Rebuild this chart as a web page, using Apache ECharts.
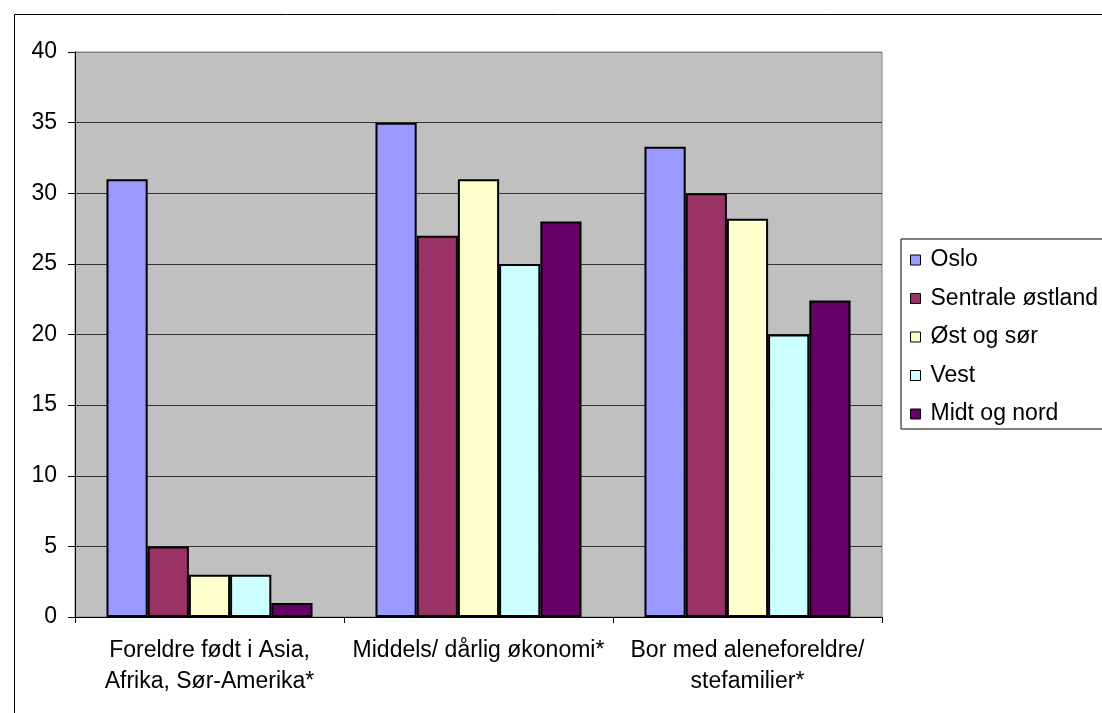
<!DOCTYPE html>
<html>
<head>
<meta charset="utf-8">
<script src="https://cdn.jsdelivr.net/npm/echarts@6/dist/echarts.min.js"></script>
<style>
html,body{margin:0;padding:0;background:#fff;}
#c{width:1102px;height:713px;}
</style>
</head>
<body>
<div id="c"></div>
<script>
const categories = ["Foreldre født i Asia,\nAfrika, Sør-Amerika*", "Middels/ dårlig økonomi*", "Bor med aleneforeldre/\nstefamilier*"];
const seriesNames = ["Oslo", "Sentrale østland", "Øst og sør", "Vest", "Midt og nord"];
const oslo = [31, 35, 33.3];
const sentrale = [5, 27, 30];
const ostOgSor = [3, 31, 28.2];
const vest = [3, 25, 20];
const midtOgNord = [1, 28, 22.4];
const colors = ["#9999FF", "#993366", "#FFFFCC", "#CCFFFF", "#660066"];
const yTicks = [0, 5, 10, 15, 20, 25, 30, 35, 40];

const values = [oslo, sentrale, ostOgSor, vest, midtOgNord];
const font = "'Liberation Sans', Arial, sans-serif";

const chart = echarts.init(document.getElementById('c'), null, {renderer: 'canvas'});
chart.setOption({
  animation: false,
  backgroundColor: '#fff',
  textStyle: {fontFamily: font},
  graphic: [{
    type: 'rect', silent: true, z: 100,
    shape: {x: 14.5, y: 14.5, width: 1200, height: 800},
    style: {fill: 'none', stroke: '#000', lineWidth: 1}
  }],
  grid: {
    left: 75, top: 52, right: 220, bottom: 96,
    show: true, backgroundColor: '#C0C0C0', borderColor: '#808080', borderWidth: 1
  },
  legend: {
    orient: 'vertical',
    left: 901, top: 239,
    padding: [9.5, 12, 3.5, 9],
    itemGap: 15.5,
    itemWidth: 10, itemHeight: 10,
    icon: 'rect',
    borderColor: '#000', borderWidth: 1,
    backgroundColor: '#fff',
    itemStyle: {borderColor: '#000', borderWidth: 1},
    textStyle: {fontSize: 23, color: '#000', fontFamily: font, lineHeight: 23, padding: [0, 0, 0, 5]},
    data: seriesNames
  },
  xAxis: {
    type: 'category',
    data: categories,
    axisLine: {lineStyle: {color: '#000', width: 1}},
    axisTick: {show: true, length: 6, lineStyle: {color: '#000'}, alignWithLabel: false},
    axisLabel: {interval: 0, fontSize: 23, color: '#000', fontFamily: font, lineHeight: 31, margin: 18}
  },
  yAxis: {
    type: 'value',
    min: 0, max: 40, interval: 5,
    axisLine: {show: true, lineStyle: {color: '#000', width: 1}},
    axisTick: {show: true, length: 7, lineStyle: {color: '#000'}},
    axisLabel: {fontSize: 23, color: '#000', fontFamily: font, margin: 18,
      formatter: function (v) { return yTicks.indexOf(v) >= 0 ? String(v) : ''; }},
    splitLine: {show: true, lineStyle: {color: ['#333','#333','#333','#333','#333','#333','#333','#333','#808080'], width: 1}}
  },
  series: seriesNames.map(function (name, i) {
    return {
      name: name,
      type: 'bar',
      data: values[i],
      barGap: '0%',
      barCategoryGap: '23.4%',
      itemStyle: {color: colors[i], borderColor: '#000', borderWidth: 2}
    };
  })
});
</script>
</body>
</html>
